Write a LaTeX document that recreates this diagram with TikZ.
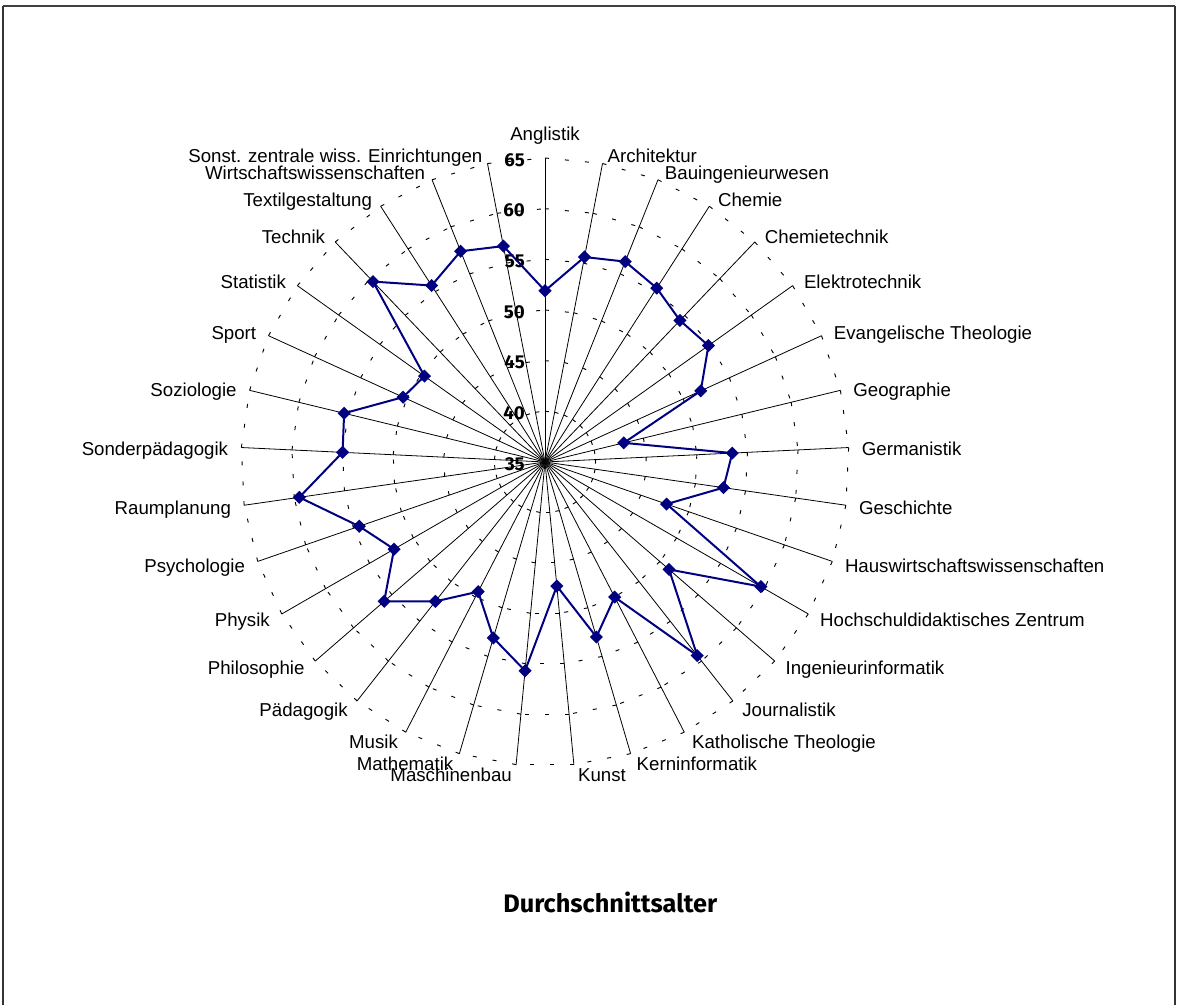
\documentclass[tikz,border=0pt]{standalone}
\usepackage{fontspec}
\setmainfont{Liberation Sans}
\newfontfamily\fira{Fira Sans}
\usetikzlibrary{shapes.geometric}
\definecolor{navy}{HTML}{000080}
\tikzset{speiche/.style={line width=0.6pt, black}}
\tikzset{gitter/.style={line width=0.7pt, dash pattern=on 3pt off 12pt}}
\tikzset{linie/.style={line width=1.5pt, navy}}
\tikzset{raute/.style={diamond, aspect=1, fill=navy, inner sep=0pt, minimum size=10pt}}
\tikzset{kat/.style={font=\fontsize{14}{16}\selectfont, inner sep=0pt}}
\tikzset{achse/.style={font=\fira\bfseries\fontsize{14}{16}\selectfont, inner sep=0pt, anchor=east}}

\begin{document}
\begin{tikzpicture}[x=0.75pt, y=0.75pt]
    \useasboundingbox (0,0) rectangle (1178,1005);
    % Rahmen
    \draw[line width=0.8pt, black!80] (3,-10) -- (3,999) (1175,999) -- (1175,-10);
    \draw[line width=1.6pt, black!75] (3,999) -- (1175,999);

    \coordinate (m) at (545,543);

    % Speichen
    \foreach \i in {0,...,32} {
        \pgfmathsetmacro\w{90-\i*360/33}
        \coordinate (e\i) at ([shift={(\w:304)}]m);
        \draw[speiche] (m) -- (e\i);
    }

    % Gitternetz 40 ... 65
    \foreach \k in {1,...,6} {
        \foreach \i in {0,...,32} {
            \pgfmathsetmacro\w{90-\i*360/33}
            \pgfmathsetmacro\wn{90-(\i+1)*360/33}
            \draw[gitter] ([shift={(\w:\k*50.667)}]m) -- ([shift={(\wn:\k*50.667)}]m);
        }
    }

    % Achsenbeschriftung
    \foreach \z [count=\k from 0] in {35,40,45,50,55,60,65} {
        \node[achse] (z\z) at ([shift={(-20,{\k*50.667-2})}]m) {\z};
    }

    % Datenreihe
    \foreach \v [count=\i from 0] in {51.9,55.6,56.3,55.4,54.3,54.8,51.9,43.0,53.5,52.8,47.7,59.6,51.2,59.3,50.0,53.0,47.3,55.7,53.1,49.4,52.5,56.0,52.2,54.4,59.5,55.0,55.4,50.4,49.6,59.6,55.7,57.4,56.7} {
        \pgfmathsetmacro\w{90-\i*360/33}
        \coordinate (p\i) at ([shift={(\w:{(\v-35)*10.133})}]m);
    }
    \draw[linie] (p0) \foreach \i in {1,...,32} {-- (p\i)} -- cycle;
    \foreach \i in {0,...,32} {
        \node[raute] (r\i) at (p\i) {};
    }

    % Kategorien
    \foreach \t [count=\n from 0] in {Anglistik,Architektur,Bauingenieurwesen,Chemie,Chemietechnik,Elektrotechnik,Evangelische Theologie,Geographie,Germanistik,Geschichte,Hauswirtschaftswissenschaften,Hochschuldidaktisches Zentrum,Ingenieurinformatik,Journalistik,Katholische Theologie,Kerninformatik,Kunst,Maschinenbau,Mathematik,Musik,Pädagogik,Philosophie,Physik,Psychologie,Raumplanung,Sonderpädagogik,Soziologie,Sport,Statistik,Technik,Textilgestaltung,Wirtschaftswissenschaften,Sonst. zentrale wiss. Einrichtungen} {
        \pgfmathsetmacro\w{90-\n*360/33}
        \pgfmathsetmacro\dx{3+10*abs(cos(\w))}
        \pgfmathsetmacro\dy{9*sin(\w)-8}
        \ifnum\n=0
            \node[kat, anchor=base] (l\n) at ([shift={(0,17)}]e\n) {\t};
        \else\ifnum\n<17
            \node[kat, anchor=base west] (l\n) at ([shift={(\dx,\dy)}]e\n) {\t};
        \else
            \node[kat, anchor=base east] (l\n) at ([shift={(-\dx,\dy)}]e\n) {\t};
        \fi\fi
    }

    % Titel
    \node[font=\fira\bfseries\fontsize{19}{22}\selectfont, inner sep=0pt, anchor=base west] (titel) at (503,92) {Durchschnittsalter};
\end{tikzpicture}
\end{document}
